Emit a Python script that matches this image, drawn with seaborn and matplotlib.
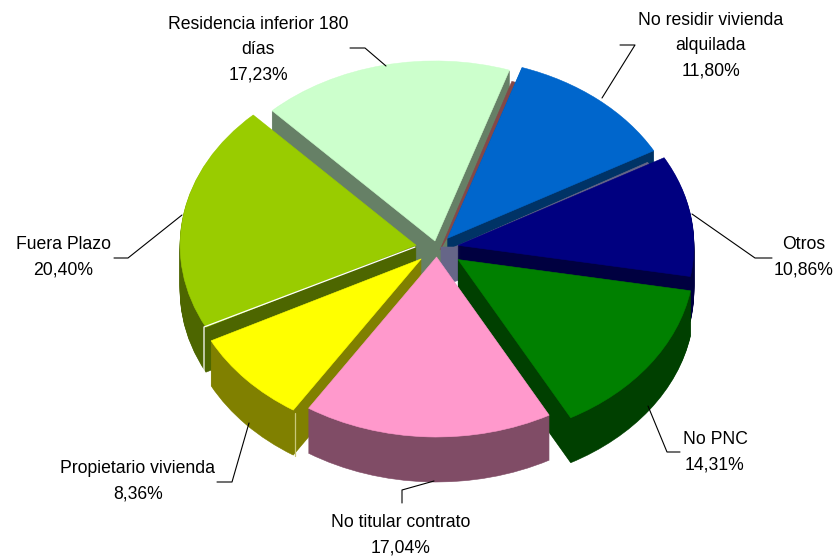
import matplotlib
matplotlib.use('Agg')
import matplotlib.pyplot as plt
import seaborn as sns

categories = ['No residir vivienda\nalquilada', 'Otros', 'No PNC', 'No titular contrato',
              'Propietario vivienda', 'Fuera Plazo', 'Residencia inferior 180\ndías']
shares = [11.80, 10.86, 14.31, 17.04, 8.36, 20.40, 17.23]
top_colors = ['#0066CC', '#000080', '#008000', '#FF99CC', '#FFFF00', '#99CC00', '#CCFFCC']
wall_colors = ['#003366', '#000040', '#004000', '#804C66', '#808000', '#4D6600', '#668066']
back_to_front = [6, 0, 1, 5, 2, 4, 3]
explode = [0.07, 0.09, 0.11, 0.05, 0.09, 0.09, 0.04]

sns.set_theme(style='white')
plt.rcParams['font.family'] = ['Liberation Sans']

fig, ax = plt.subplots(figsize=(8.37, 5.6), dpi=100)
fig.subplots_adjust(0, 0, 1, 1)

# data units -> picture pixels, the pie is squashed to look tilted
cx, cy, rx, ry = 437, 248, 236, 180
depth_px = 45
start = 71.6


def px(x, y):
    return (x - cx) / rx, (cy - y) / ry


def seal(wedge, z):
    wedge.set_edgecolor(wedge.get_facecolor())
    wedge.set_linewidth(0.4)
    wedge.set_zorder(z)


# extrude the pie by stacking copies, top face comes last
for layer in range(depth_px + 1):
    colors = top_colors if layer == depth_px else wall_colors
    wedges, _ = ax.pie(shares, colors=colors, explode=explode, startangle=start, counterclock=False,
                       center=(0, -(depth_px - layer) / ry), radius=1.0)
    for idx, w in enumerate(wedges):
        seal(w, back_to_front.index(idx) + 1 + layer / 100)


def facet(apex, first_deg, sweep_deg, radius, color, z):
    # inner faces seen through the gaps between slices
    wedges, _ = ax.pie([sweep_deg / 360], normalize=False, colors=[color], startangle=90 - first_deg,
                       counterclock=False, center=px(*apex), radius=radius)
    seal(wedges[0], z)


facet((440, 250), 18.0, 6, 0.985, '#844848', 1.96)
facet((443, 252), 60.1, 25, 1.0, '#666688', 2.96)
facet((441, 247), 90, 90, 0.2, '#666688', 2.97)

ax.set_aspect('auto')
ax.set_xlim(-cx / rx, (837 - cx) / rx)
ax.set_ylim((cy - 560) / ry, cy / ry)
ax.axis('off')

# pale seams Excel leaves on two of the slices
seams = [
    ([(204, 372), (204, 327), (415, 247)], 'white'),
    ([(295, 413), (295, 456)], '#C8C878'),
]
for seam, seam_color in seams:
    pts = [px(*p) for p in seam]
    ax.plot([p[0] for p in pts], [p[1] for p in pts], color=seam_color, lw=0.9, zorder=8)

leaders = [
    [(620, 45), (635, 45), (602, 98)],
    [(772, 258), (755, 258), (692, 214)],
    [(680, 452), (667, 452), (648, 406)],
    [(402, 503), (402, 490), (434, 481)],
    [(217, 482), (232, 482), (249, 423)],
    [(114, 258), (128, 258), (182, 215)],
    [(350, 48), (365, 48), (386, 66)],
]
labels_at = [(711, 46), (804, 257), (715, 452), (401, 535), (138, 481), (63, 257), (258, 50)]

for i, name in enumerate(categories):
    pts = [px(*p) for p in leaders[i]]
    ax.plot([p[0] for p in pts], [p[1] for p in pts], color='black', lw=0.8, zorder=20)
    tx, ty = px(*labels_at[i])
    value = f'{shares[i]:.2f}%'.replace('.', ',')
    ax.text(tx, ty, f'{name}\n{value}', ha='center', va='center',
            fontsize=12.7, color='black', linespacing=1.65, zorder=21)

fig.savefig('out.png', dpi=100)
